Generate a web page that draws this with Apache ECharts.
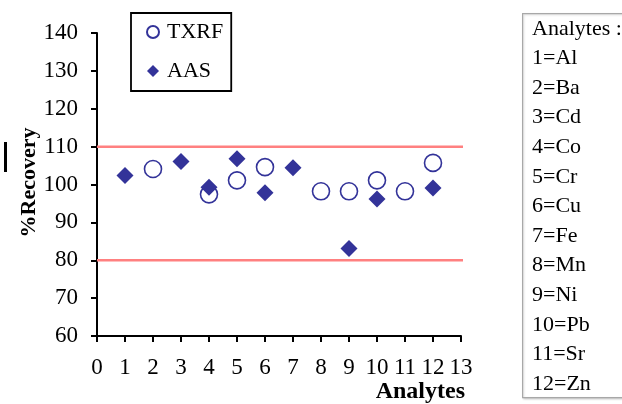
<!DOCTYPE html>
<html>
<head>
<meta charset="utf-8">
<script src="https://cdn.jsdelivr.net/npm/echarts@6/dist/echarts.min.js"></script>
<style>
html,body{margin:0;padding:0;background:#fff;}
#chart{width:622px;height:404px;}
</style>
</head>
<body>
<div id="chart"></div>
<script>
// Data
var txrfX = [2, 4, 5, 6, 8, 9, 10, 11, 12];
var txrfY = [104.1, 97.4, 101.1, 104.6, 98.2, 98.2, 101.1, 98.2, 105.7];
var aasX = [1, 3, 4, 5, 6, 7, 9, 10, 12];
var aasY = [102.4, 106.1, 99.3, 106.8, 97.8, 104.4, 83.1, 96.2, 99.1];
var limits = [80, 110];
var analyteNumbers = [1, 2, 3, 4, 5, 6, 7, 8, 9, 10, 11, 12];
var analyteNames = ['Al', 'Ba', 'Cd', 'Co', 'Cr', 'Cu', 'Fe', 'Mn', 'Ni', 'Pb', 'Sr', 'Zn'];

var SERIF = '"Liberation Serif","DejaVu Serif",serif';
var NAVY = '#333399';
var LIMIT_END = 13.4;

function pairs(xs, ys) { return xs.map(function (x, i) { return [x, ys[i]]; }); }

var listText = ['Analytes :'].concat(analyteNumbers.map(function (n, i) {
  return n + '=' + analyteNames[i];
})).join('\n');

var limitSeries = limits.map(function (v) {
  return {
    name: 'limit' + v, type: 'line', clip: false, silent: true,
    symbol: 'none', z: 1,
    data: [[0, v], [LIMIT_END, v]],
    lineStyle: { color: '#ff8080', width: 2.5 }
  };
});

var chart = echarts.init(document.getElementById('chart'));
chart.setOption({
  animation: false,
  backgroundColor: '#fff',
  grid: { left: 97, right: 161, top: 33, bottom: 67 },
  xAxis: {
    type: 'value', min: 0, max: 13, interval: 1,
    splitLine: { show: false },
    axisLine: { onZero: false, lineStyle: { color: '#000', width: 2 } },
    axisTick: { show: true, length: 6, lineStyle: { color: '#000', width: 2 } },
    axisLabel: { color: '#000', fontFamily: SERIF, fontSize: 23, margin: 20 },
    name: 'Analytes', nameLocation: 'end', nameGap: 4,
    nameTextStyle: { color: '#000', fontFamily: SERIF, fontSize: 24, fontWeight: 'bold',
      align: 'right', verticalAlign: 'top', padding: [44, 0, 0, 0] }
  },
  yAxis: {
    type: 'value', min: 60, max: 140, interval: 10,
    splitLine: { show: false },
    axisLine: { show: true, onZero: false, lineStyle: { color: '#000', width: 2 } },
    axisTick: { show: true, length: 6, lineStyle: { color: '#000', width: 2 } },
    axisLabel: { color: '#000', fontFamily: SERIF, fontSize: 23, margin: 19 },
    name: '%Recovery', nameLocation: 'middle', nameGap: 57, nameMoveOverlap: false,
    nameTextStyle: { color: '#000', fontFamily: SERIF, fontSize: 22, fontWeight: 'bold',
      padding: [0, 0, 0, 4] }
  },
  legend: {
    data: ['TXRF', 'AAS'],
    orient: 'vertical', left: 131, top: 13,
    padding: [8, 8, 9, 15],
    itemGap: 17, itemWidth: 12, itemHeight: 12,
    borderColor: '#000', borderWidth: 1.8,
    textStyle: { color: '#000', fontFamily: SERIF, fontSize: 22, padding: [0, 0, 0, 3] }
  },
  graphic: [
    { type: 'rect', left: 4, top: 142, shape: { width: 3, height: 30 }, style: { fill: '#000' } },
    { type: 'rect', left: 522, top: 13, shape: { width: 130, height: 384 },
      style: { fill: '#fff', stroke: '#a8a8a8', lineWidth: 1.2,
        shadowColor: 'rgba(0,0,0,0.15)', shadowBlur: 2, shadowOffsetX: 1, shadowOffsetY: 1 } },
    { type: 'text', left: 532, top: 14,
      style: { text: listText, fill: '#000', font: '22px ' + SERIF, lineHeight: 29.6 } }
  ],
  series: limitSeries.concat([
    {
      name: 'TXRF', type: 'scatter', symbol: 'circle', symbolSize: 17,
      data: pairs(txrfX, txrfY),
      itemStyle: { color: '#fff', borderColor: NAVY, borderWidth: 1.6, opacity: 1 }
    },
    {
      name: 'AAS', type: 'scatter', symbol: 'diamond', symbolSize: 17,
      data: pairs(aasX, aasY),
      itemStyle: { color: NAVY, opacity: 1 }
    }
  ])
});
</script>
</body>
</html>
